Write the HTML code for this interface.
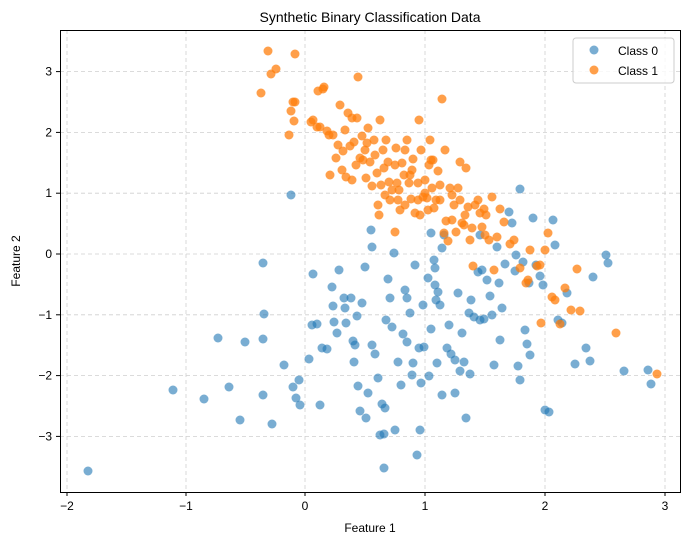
<!DOCTYPE html>
<html><head><meta charset="utf-8"><style>
body{margin:0;background:#fff;width:689px;height:545px;overflow:hidden}
svg{font-family:"Liberation Sans","DejaVu Sans",sans-serif}
</style></head><body>
<svg id="s" width="689" height="545" xmlns="http://www.w3.org/2000/svg">
<rect width="689" height="545" fill="#fff"/>
<text x="370" y="22" font-size="14" text-anchor="middle">Synthetic Binary Classification Data</text>
<g id="grid" stroke="#b0b0b0" stroke-width="0.8" stroke-dasharray="4,3" opacity="0.6"></g>
<g id="pts"></g>
<rect x="60.5" y="30.5" width="620" height="462" fill="none" stroke="#000" stroke-width="1"/>
<g id="ticks" font-size="12"></g>
<text x="370" y="532" font-size="12" text-anchor="middle">Feature 1</text>
<text x="20" y="261" font-size="12" text-anchor="middle" transform="rotate(-90 20 261)">Feature 2</text>
<rect x="573" y="38" width="101" height="45" rx="3" fill="#fff" fill-opacity="0.8" stroke="#ccc"/>
<circle cx="594" cy="50" r="4.5" fill="#1f77b4" fill-opacity="0.6"/>
<circle cx="594" cy="70" r="4.5" fill="#ff7f0e" fill-opacity="0.75"/>
<text x="618" y="55" font-size="12">Class 0</text>
<text x="618" y="75" font-size="12">Class 1</text>
</svg>
<script>
var NS="http://www.w3.org/2000/svg";
function el(t,a,p){var e=document.createElementNS(NS,t);for(var k in a)e.setAttribute(k,a[k]);p.appendChild(e);return e;}
var g=document.getElementById("grid"),tk=document.getElementById("ticks"),pt=document.getElementById("pts");
var xs=[[-2,67],[-1,186],[0,305],[1,425],[2,545],[3,665]];
xs.forEach(function(v){el("line",{x1:v[1],x2:v[1],y1:30,y2:492},g);el("line",{x1:v[1],x2:v[1],y1:492,y2:496,stroke:"#000"},tk);
var t=el("text",{x:v[1],y:510,"text-anchor":"middle"},tk);t.textContent=(v[0]<0?"\u2212"+(-v[0]):v[0]);});
for(var i=-3;i<=3;i++){var y=254-i*60.8;el("line",{x1:60,x2:680,y1:y,y2:y},g);el("line",{x1:56,x2:60,y1:y,y2:y,stroke:"#000"},tk);
var t=el("text",{x:52,y:y+4,"text-anchor":"end"},tk);t.textContent=(i<0?"\u2212"+(-i):i);}
var B=[88,471,173,390,204,399,229,387,240,420,263,395,272,424,263,339,218,338,245,342,291,195,263,263,264,314,284,365,293,387,296,398,299,380,300,405,309,359,312,325,313,274,317,324,320,405,322,348,327,349,332,287,333,306,334,322,337,333,339,270,344,298,346,323,351,298,353,341,354,362,357,316,358,386,360,411,362,303,365,267,368,393,371,230,372,247,372,345,375,354,378,378,380,435,382,404,384,468,384,434,386,320,388,279,390,298,392,327,394,253,398,362,401,385,403,334,405,290,407,298,410,313,412,375,413,363,415,265,417,455,419,348,421,383,423,305,424,347,428,278,429,376,431,233,431,329,434,260,435,268,436,300,437,363,438,292,442,248,444,235,447,348,449,325,451,354,455,393,458,293,460,371,462,333,464,362,466,418,469,313,471,300,474,317,478,272,480,235,482,270,484,319,487,280,490,296,492,315,494,365,497,247,499,283,502,308,505,264,509,212,512,223,515,271,518,366,520,189,523,262,525,330,527,344,529,283,533,218,536,265,540,276,543,285,545,410,549,412,555,245,558,320,562,323,567,293,575,364,586,348,590,361,593,277,606,255,608,263,624,371,651,384,648,370,553,220,345,308,355,345,366,418,385,408,395,430,435,285,470,374,516,255,455,360,480,320,420,430,440,305,407,342,442,395,500,340,520,380,530,355];
var O=[261,93,268,51,271,74,276,69,295,54,289,135,291,111,293,102,294,121,295,102,311,122,313,120,317,127,320,127,318,91,323,89,324,87,327,131,329,135,333,135,336,158,340,105,343,151,346,177,348,113,350,146,352,118,354,142,357,118,358,77,360,158,362,136,365,150,367,143,370,162,372,186,375,155,377,173,379,215,381,185,384,168,386,140,388,162,389,182,392,190,395,165,397,183,399,190,402,163,405,205,407,140,409,183,411,199,413,159,415,213,418,183,419,120,421,150,423,197,425,193,427,198,429,165,431,160,433,160,434,208,436,200,438,171,440,200,442,99,444,233,446,221,448,241,450,188,452,220,454,205,456,232,458,188,460,162,462,223,464,225,466,168,468,207,470,240,473,266,475,205,478,200,480,213,482,227,484,209,486,215,489,240,492,197,494,270,497,237,500,209,504,222,510,244,514,240,520,268,526,283,530,250,537,266,541,323,545,250,548,233,552,297,555,300,560,324,565,288,571,310,577,269,580,311,616,333,657,374,528,280,540,265,330,175,352,180,363,160,400,210,410,175,430,140,460,200,445,150,420,215,390,200,378,205,395,232,
338,145,345,130,368,128,374,140,383,150,396,148,404,175,412,170,425,180,432,188,440,185,452,195,465,215,472,228,485,235,398,200,418,200,428,210,385,195,366,178,356,165,342,170,380,120,405,150];
for(var i=0;i<B.length;i+=2)el("circle",{cx:B[i],cy:B[i+1],r:4.5,fill:"#1f77b4","fill-opacity":0.6},pt);
for(var i=0;i<O.length;i+=2)el("circle",{cx:O[i],cy:O[i+1],r:4.5,fill:"#ff7f0e","fill-opacity":0.75},pt);
</script>
</body></html>
